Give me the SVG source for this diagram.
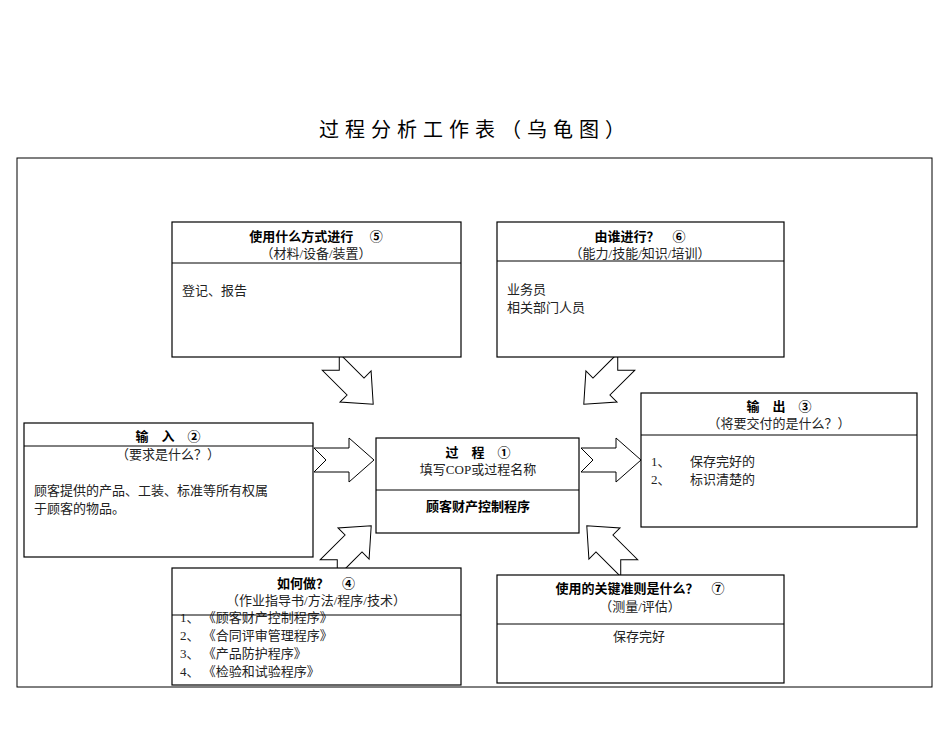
<svg xmlns="http://www.w3.org/2000/svg" width="950" height="735" viewBox="0 0 950 735">
<style>
.b{fill:#fff;stroke:#000;stroke-width:1.2}
.l{stroke:#000;stroke-width:1}
.h{font-family:"Liberation Sans","Noto Sans CJK SC",sans-serif;font-size:13px;font-weight:bold;text-anchor:middle}
.s{font-family:"Liberation Serif","Noto Sans CJK SC",serif;font-size:13px;text-anchor:middle;fill:#222}
.t{font-family:"Liberation Serif","Noto Sans CJK SC",serif;font-size:13px;fill:#222}
.ar{fill:#fff;stroke:#000;stroke-width:1}
</style>
<defs><polygon id="arr" class="ar" points="-30,-12 5,-12 5,-22 30,0 5,22 5,12 -30,12 -18,0"/></defs>
<rect width="950" height="735" fill="#fff"/>
<text x="475" y="137" font-family="Liberation Serif,Noto Sans CJK SC,serif" font-size="20" letter-spacing="6" text-anchor="middle">过程分析工作表（乌龟图）</text>
<rect x="17" y="158" width="915" height="529" fill="none" stroke="#000" stroke-width="1"/>
<g id="connectors">
<use href="#arr" transform="translate(344,460)"/>
<use href="#arr" transform="translate(611,460)"/>
<use href="#arr" transform="translate(352,383) rotate(45)"/>
<use href="#arr" transform="translate(605,383) rotate(135)"/>
<use href="#arr" transform="translate(350,547) rotate(-45)"/>
<use href="#arr" transform="translate(608,547) rotate(-135)"/>
</g>
<g id="n5"><rect class="b" x="172" y="222" width="289" height="135"/><line class="l" x1="172" y1="263" x2="461" y2="263"/>
<text class="h" x="316" y="241">使用什么方式进行　 ⑤</text><text class="s" x="316" y="258">（材料/设备/装置）</text><text class="t" x="182" y="295">登记、报告</text></g>
<g id="n6"><rect class="b" x="497" y="222" width="287" height="135"/><line class="l" x1="497" y1="261" x2="784" y2="261"/>
<text class="h" x="640" y="241">由谁进行？　⑥</text><text class="s" x="640" y="258">（能力/技能/知识/培训）</text><text class="t" x="507" y="294">业务员</text><text class="t" x="507" y="312">相关部门人员</text></g>
<g id="n3"><rect class="b" x="641" y="393" width="276" height="134"/><line class="l" x1="641" y1="435" x2="917" y2="435"/>
<text class="h" x="779" y="411">输　出　③</text><text class="s" x="779" y="428">（将要交付的是什么？）</text><text class="t" x="651" y="466">1、　　保存完好的</text><text class="t" x="651" y="484">2、　　标识清楚的</text></g>
<g id="n2"><rect class="b" x="24" y="423" width="289" height="134"/><line class="l" x1="24" y1="446" x2="313" y2="446"/>
<text class="h" x="168" y="441">输　入　②</text><text class="s" x="168" y="459">（要求是什么？）</text><text class="t" x="34" y="495">顾客提供的产品、工装、标准等所有权属</text><text class="t" x="34" y="513">于顾客的物品。</text></g>
<g id="n1"><rect class="b" x="376" y="438" width="203" height="95"/><line class="l" x1="376" y1="490" x2="579" y2="490"/>
<text class="h" x="478" y="457">过　程　①</text><text class="s" x="478" y="474">填写COP或过程名称</text><text class="h" x="478" y="511">顾客财产控制程序</text></g>
<g id="n4"><rect class="b" x="172" y="568" width="289" height="117"/>
<text class="h" x="316" y="588">如何做？　④</text><text class="s" x="316" y="605">（作业指导书/方法/程序/技术）</text>
<text class="t" x="180" y="622">1、 《顾客财产控制程序》</text><text class="t" x="180" y="640">2、 《合同评审管理程序》</text><text class="t" x="180" y="658">3、 《产品防护程序》</text><text class="t" x="180" y="676">4、 《检验和试验程序》</text>
<line class="l" x1="172" y1="615" x2="461" y2="615"/></g>
<g id="n7"><rect class="b" x="497" y="575" width="287" height="108"/><line class="l" x1="497" y1="624" x2="784" y2="624"/>
<text class="h" x="640" y="593">使用的关键准则是什么？　⑦</text><text class="s" x="640" y="611">（测量/评估）</text><text class="t" x="613" y="641">保存完好</text></g>
</svg>
